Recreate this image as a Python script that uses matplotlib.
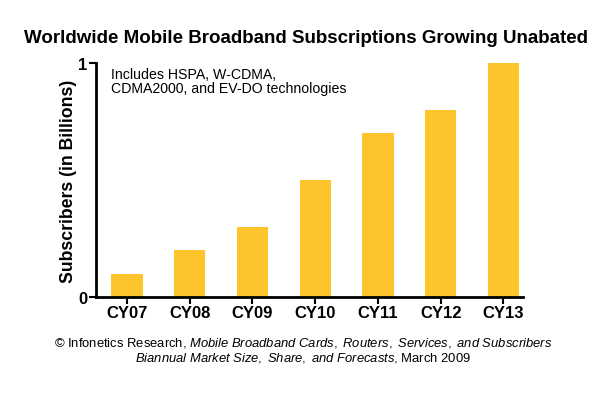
import matplotlib
matplotlib.use("Agg")
import matplotlib.pyplot as plt

categories = ["CY07", "CY08", "CY09", "CY10", "CY11", "CY12", "CY13"]
subscribers = [0.1, 0.2, 0.3, 0.5, 0.7, 0.8, 1.0]
y_ticks = [0, 1]

plt.rcParams['font.family'] = ['Liberation Sans', 'DejaVu Sans']
plt.rcParams['mathtext.fontset'] = 'custom'
plt.rcParams['mathtext.it'] = 'Liberation Sans:italic'
plt.rcParams['mathtext.rm'] = 'Liberation Sans'

fig = plt.figure(figsize=(6.0, 4.14), dpi=100)
ax = fig.add_axes([0.16, 0.280, 0.712, 0.565])

x = list(range(len(categories)))
ax.bar(x, subscribers, width=0.5, color="#FDC42C")
ax.set_xlim(-0.494, 6.316)
ax.set_ylim(0, 1)
ax.set_xticks(x)
ax.set_xticklabels(categories, fontsize=12, fontweight='bold')
ax.set_yticks(y_ticks)
ax.set_yticklabels([str(v) for v in y_ticks], fontsize=12, fontweight='bold')
for s in ['top', 'right']:
    ax.spines[s].set_visible(False)
for s in ['left', 'bottom']:
    ax.spines[s].set_linewidth(2)
ax.tick_params(axis='both', direction='out', length=5, width=1.5, pad=1)
ax.set_ylabel("Subscribers (in Billions)", fontsize=12.7, fontweight='bold')
ax.yaxis.set_label_coords(-0.045, 0.5)

ax.text(0.035, 0.985, "Includes HSPA, W-CDMA,\nCDMA2000, and EV-DO technologies",
        transform=ax.transAxes, fontsize=10.2, va='top', ha='left', linespacing=1.05)

fig.text(0.51, 0.908, "Worldwide Mobile Broadband Subscriptions Growing Unabated",
         ha='center', va='center', fontsize=13.5, fontweight='bold')

fig.text(0.505, 0.172, "© Infonetics Research, $\\it{Mobile\\ Broadband\\ Cards,\\ Routers,\\ Services,\\ and\\ Subscribers}$",
         ha='center', va='center', fontsize=9.4)
fig.text(0.505, 0.136, "$\\it{Biannual\\ Market\\ Size,\\ Share,\\ and\\ Forecasts}$, March 2009",
         ha='center', va='center', fontsize=9.4)

fig.savefig("out.png", dpi=100)
